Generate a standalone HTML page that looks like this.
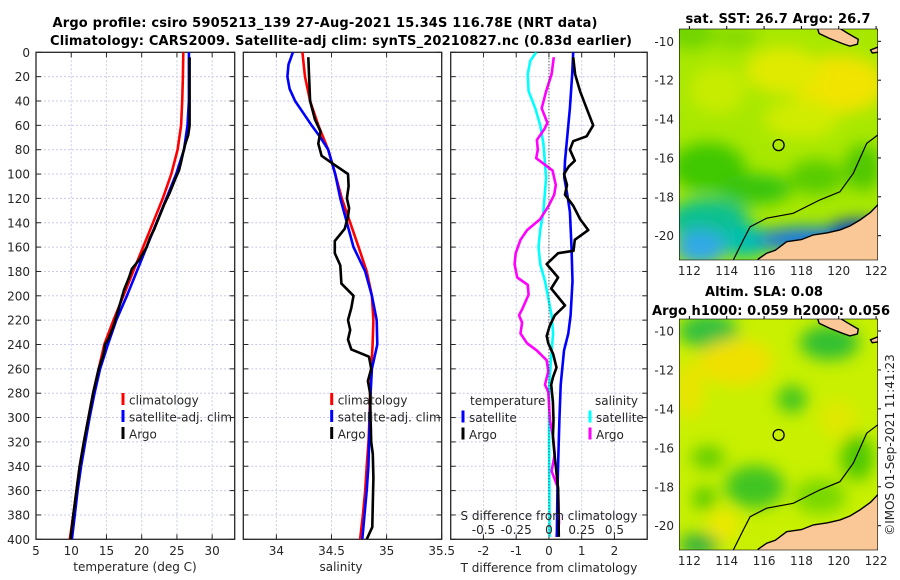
<!DOCTYPE html>
<html><head><meta charset="utf-8">
<style>
html,body{margin:0;padding:0;background:#fff;}
svg{display:block;font-family:"DejaVu Sans","Liberation Sans",sans-serif;}
.tk{font-size:12px;fill:#262626;}
.tt{font-size:13px;font-weight:bold;fill:#000;}
</style></head>
<body>
<svg id="fig" width="900" height="580" viewBox="0 0 900 580" xmlns="http://www.w3.org/2000/svg">
<defs>
<filter id="blr" x="-20%" y="-20%" width="140%" height="140%"><feGaussianBlur stdDeviation="8"/></filter>
<clipPath id="c1"><rect x="679.3" y="29" width="198.4" height="231"/></clipPath>
<clipPath id="c2"><rect x="679.3" y="319" width="198.4" height="231"/></clipPath>
<clipPath id="cp1"><rect x="36" y="52.3" width="198.7" height="487"/></clipPath>
<clipPath id="cp2"><rect x="243.3" y="52.3" width="198.4" height="487"/></clipPath>
<clipPath id="cp3"><rect x="450.7" y="52.3" width="196.5" height="487"/></clipPath>
</defs>
<text class="tt" x="325" y="27" text-anchor="middle" textLength="545">Argo profile: csiro 5905213_139 27-Aug-2021 15.34S 116.78E (NRT data)</text>
<text class="tt" x="341" y="45" text-anchor="middle" textLength="582">Climatology: CARS2009. Satellite-adj clim: synTS_20210827.nc (0.83d earlier)</text>
<g id="p1"></g>
<g id="p2"></g>
<g id="p3"></g>
<g id="m1"></g>
<g id="m2"></g>
<text class="tk" transform="translate(894,445) rotate(-90)" text-anchor="middle" font-size="13">©IMOS 01-Sep-2021 11:41:23</text>
</svg>
<script>
// ---- data ----
const depthTicks=[0,20,40,60,80,100,120,140,160,180,200,220,240,260,280,300,320,340,360,380,400];
const tTicks=[5,10,15,20,25,30];
const sTicks=[34,34.5,35,35.5];
const dTTicks=[-2,-1,0,1,2];
const dSTicks=[-0.5,-0.25,0,0.25,0.5];
const climDepth=[0,20,40,60,80,100,120,140,160,180,200,220,240,260,280,300,320,340,360,380,400];
const tClim=[25.9,25.85,25.75,25.6,25.1,24.2,23.0,21.6,20.2,18.8,17.4,16.0,14.7,13.9,13.1,12.45,11.8,11.2,10.75,10.3,9.8];
const tSat=[26.7,26.7,26.7,26.5,26.0,24.9,23.5,22.1,20.7,19.3,17.9,16.4,15.2,14.1,13.3,12.6,12.0,11.4,10.9,10.5,10.1];
const argoTDepth=[4,20,40,60,68,75,82,90,97,105,115,125,135,145,152,160,170,178,185,195,205,215,225,235,240,248,260,270,280,300,320,340,360,380,400];
const tArgo=[26.8,26.8,26.8,26.8,26.6,26.2,25.9,25.6,25.3,24.7,24.0,23.2,22.5,21.8,21.2,20.7,19.7,18.6,18.2,17.5,17.0,16.5,16.0,15.3,14.8,14.6,13.9,13.5,13.1,12.45,11.8,11.2,10.75,10.3,9.9];
const sClim=[34.236,34.26,34.306,34.38,34.47,34.534,34.594,34.67,34.746,34.82,34.867,34.88,34.873,34.861,34.85,34.845,34.836,34.82,34.806,34.785,34.76];
const sSatDepth=[0,10,20,30,40,50,60,70,80,100,120,140,160,180,200,220,240,260,280,300,340,360,380,400];
const sSat=[34.15,34.11,34.10,34.12,34.17,34.245,34.32,34.40,34.47,34.534,34.58,34.64,34.70,34.806,34.867,34.91,34.916,34.867,34.855,34.848,34.835,34.82,34.80,34.78];
const argoSDepth=[4,40,55,65,75,85,92,100,110,120,128,135,145,155,165,175,190,200,210,220,228,236,244,250,260,270,280,300,320,330,350,370,390,400];
const sArgo=[34.29,34.306,34.35,34.40,34.38,34.41,34.52,34.65,34.655,34.64,34.66,34.65,34.62,34.53,34.53,34.58,34.59,34.70,34.68,34.65,34.67,34.65,34.68,34.84,34.86,34.83,34.85,34.855,34.86,34.875,34.88,34.875,34.87,34.82];
const dTSatDepth=[0,18,46,75,89,103,117,131,160,188,216,231,245,273,302,330,358,398];
const dTSat=[0.74,0.71,0.64,0.54,0.49,0.47,0.56,0.64,0.69,0.72,0.66,0.59,0.46,0.36,0.32,0.29,0.26,0.24];
const dSSatDepth=[0,7,18,32,46,60,75,103,131,146,160,174,188,216,231,245,273,302,398];
const dSSat=[-0.097,-0.142,-0.162,-0.155,-0.104,-0.067,-0.042,-0.022,-0.042,-0.067,-0.08,-0.067,-0.03,0.02,0.032,0.02,0.002,0,0.005];
const dSArgoDepth=[4,18,32,46,58,63,72,80,87,97,109,117,126,137,146,154,165,174,185,191,199,211,216,222,231,239,245,253,262,273,279,302,316,330,344,358,387,398];
const dSArgo=[0.037,0.02,-0.022,-0.055,-0.012,-0.035,-0.092,-0.085,-0.097,0.027,0.052,0.04,-0.002,-0.067,-0.167,-0.217,-0.254,-0.262,-0.242,-0.162,-0.155,-0.204,-0.229,-0.205,-0.217,-0.167,-0.092,-0.017,-0.005,-0.03,-0.005,0.007,0.032,0.045,0.02,0.07,0.077,0.057];
const dTArgoDepth=[4,18,32,46,60,69,73,80,89,94,100,109,117,126,137,146,154,163,165,174,185,194,208,216,225,233,239,248,259,267,273,287,302,316,330,358,398];
const dTArgo=[0.74,0.8,0.95,1.15,1.35,1.15,0.74,0.64,0.79,0.6,0.46,0.55,0.49,0.74,0.95,1.2,0.79,0.75,0.28,-0.07,0.28,0.07,0.49,0.18,0.02,-0.07,-0.02,0.13,0.23,0.12,0.07,0.12,0.14,0.12,0.17,0.28,0.3];
const latTicks=[-10,-12,-14,-16,-18,-20];
const lonTicks=[112,114,116,118,120,122];
const argoPos=[116.78,-15.34];

// ---- helpers ----
const NS="http://www.w3.org/2000/svg";
function mk(parent,tag,attrs,txt){const e=document.createElementNS(NS,tag);for(const k in attrs)e.setAttribute(k,attrs[k]);if(txt!==undefined)e.textContent=txt;parent.appendChild(e);return e;}
const Y0=52.3,Y1=539.3;
const yD=d=>Y0+d/400*(Y1-Y0);
function panel(g,x0,x1,xmin,xmax,ticks,fmt,clip){
  const xs=v=>x0+(v-xmin)/(xmax-xmin)*(x1-x0);
  for(const d of depthTicks){ if(d>0&&d<400){const l=mk(g,'line',{x1:x0,x2:x1,y1:yD(d),y2:yD(d),stroke:'#c8cce8','stroke-width':1,'stroke-dasharray':'2,2'});
    
    }
    mk(g,'line',{x1:x0,x2:x0+5,y1:yD(d),y2:yD(d),stroke:'#262626'});mk(g,'line',{x1:x1-5,x2:x1,y1:yD(d),y2:yD(d),stroke:'#262626'});}
  for(const t of ticks){const x=xs(t); if(x>x0+1&&x<x1-1){const l=mk(g,'line',{x1:x,x2:x,y1:Y0,y2:Y1,stroke:'#c8cce8','stroke-width':1,'stroke-dasharray':'2,2'});
    
    }
    mk(g,'line',{x1:x,x2:x,y1:Y1,y2:Y1-5,stroke:'#262626'});mk(g,'line',{x1:x,x2:x,y1:Y0,y2:Y0+5,stroke:'#262626'});
    if(fmt){const tx=mk(g,'text',{class:'tk',x:x,y:555,'text-anchor':'middle'},fmt(t));
    
    }}
  const r=mk(g,'rect',{x:x0,y:Y0,width:x1-x0,height:Y1-Y0,fill:'none',stroke:'#262626','stroke-width':1.3});
  
  
  const lg=mk(g,'g',{'clip-path':'url(#'+clip+')'});
  return {xs,lg};
}
function line(g,xs,dep,vals,col,name,w){
  const pts=dep.map((d,i)=>xs(vals[i]).toFixed(1)+','+yD(d).toFixed(1)).join(' ');
  const p=mk(g,'polyline',{points:pts,fill:'none',stroke:col,'stroke-width':w||2.6,'stroke-linejoin':'round'});
  
  
}
function legend(g,x,y,col,label,name){
  mk(g,'rect',{x:x-1.5,y:y-7,width:3,height:12,fill:col});
  const t=mk(g,'text',{class:'tk',x:x+6,y:y+4.5},label);
  
  
}

// ---- panel 1 ----
const g1=document.getElementById('p1');
const P1=panel(g1,36,234.7,5,33.2,tTicks,t=>String(t),'cp1');
for(const d of depthTicks){const t=mk(g1,'text',{class:'tk',x:30,y:yD(d)+4.5,'text-anchor':'end'},String(d));
  
  }
line(P1.lg,P1.xs,climDepth,tClim,'#ff0000','temp-climatology-line');
line(P1.lg,P1.xs,climDepth,tSat,'#0000ff','temp-satellite-line');
line(P1.lg,P1.xs,argoTDepth,tArgo,'#000000','temp-argo-line');
legend(g1,123,400,'#ff0000','climatology','legend-climatology');
legend(g1,123,417,'#0000ff','satellite-adj. clim','legend-satellite');
legend(g1,123,434,'#000000','Argo','legend-argo');
(function(){const t=mk(g1,'text',{class:'tk',x:135,y:571,'text-anchor':'middle','font-size':13},'temperature (deg C)');
})();

// ---- panel 2 ----
const g2=document.getElementById('p2');
const P2=panel(g2,243.3,441.7,33.7,35.5,sTicks,t=>String(t),'cp2');
line(P2.lg,P2.xs,climDepth,sClim,'#ff0000','sal-climatology-line');
line(P2.lg,P2.xs,sSatDepth,sSat,'#0000ff','sal-satellite-line');
line(P2.lg,P2.xs,argoSDepth,sArgo,'#000000','sal-argo-line');
legend(g2,331.7,400,'#ff0000','climatology','legend-climatology');
legend(g2,331.7,417,'#0000ff','satellite-adj. clim','legend-satellite');
legend(g2,331.7,434,'#000000','Argo','legend-argo');
(function(){const t=mk(g2,'text',{class:'tk',x:341,y:571,'text-anchor':'middle','font-size':13},'salinity');
})();

// ---- panel 3 ----
const g3=document.getElementById('p3');
const P3=panel(g3,450.7,647.2,-3,3,dTTicks,null,'cp3');
for(const t of dTTicks){const tx=mk(g3,'text',{class:'tk',x:P3.xs(t),y:555,'text-anchor':'middle'},String(t));
  
  }
const xsS=v=>P3.xs(v*4);
mk(g3,'line',{x1:P3.xs(0),x2:P3.xs(0),y1:Y0,y2:Y1,stroke:'#333','stroke-width':1,'stroke-dasharray':'1,2'});
line(P3.lg,xsS,dSSatDepth,dSSat,'#00ffff','sdiff-satellite-line');
line(P3.lg,xsS,dSArgoDepth,dSArgo,'#ff00ff','sdiff-argo-line');
line(P3.lg,P3.xs,dTSatDepth,dTSat,'#0000ff','tdiff-satellite-line');
line(P3.lg,P3.xs,dTArgoDepth,dTArgo,'#000000','tdiff-argo-line');
(function(){let t=mk(g3,'text',{class:'tk',x:470,y:405},'temperature');
t=mk(g3,'text',{class:'tk',x:595,y:405},'salinity');})();
legend(g3,463,417.5,'#0000ff','satellite','legend-t-satellite');
legend(g3,463,434.5,'#000000','Argo','legend-t-argo');
legend(g3,590,417.5,'#00ffff','satellite','legend-s-satellite');
legend(g3,590,434.5,'#ff00ff','Argo','legend-s-argo');
(function(){let t=mk(g3,'text',{class:'tk',x:549,y:520,'text-anchor':'middle'},'S difference from climatology');
for(const v of dSTicks){const x=mk(g3,'text',{class:'tk',x:xsS(v),y:534,'text-anchor':'middle'},String(v));}
t=mk(g3,'text',{class:'tk',x:549,y:572,'text-anchor':'middle','font-size':13},'T difference from climatology');})();

// ---- maps ----
const coast=[[115.6,-21.4],[115.69,-21.2],[116.14,-20.9],[116.6,-20.75],[117.21,-20.31],[118.0,-20.2],[118.64,-19.96],[119.4,-19.85],[120.07,-19.7],[120.6,-19.5],[121.14,-19.19],[121.7,-18.8],[122.2,-18.3],[122.2,-21.4]];
const island=[[118.85,-9.3],[118.95,-9.6],[119.5,-9.85],[120.2,-10.12],[120.6,-10.25],[121.0,-10.15],[121.05,-9.9],[120.5,-9.6],[120.0,-9.3]];
const island2=[[121.7,-10.45],[122.1,-10.3],[122.2,-10.55],[121.8,-10.6]];
const isobath=[[114.35,-21.25],[114.89,-20.22],[115.25,-19.54],[116.14,-19.1],[117.56,-18.85],[118.99,-18.16],[120.06,-17.74],[120.78,-16.79],[121.5,-15.25],[122.09,-14.82]];
function drawMap(id,top,lat10,lat20,clip,title,blobs,base){
  const g=document.getElementById(id);
  const X=lon=>679.3+(lon-111.46)*18.67;
  const Y=lat=>lat10+(-10-lat)/10*(lat20-lat10);
  const cg=mk(g,'g',{'clip-path':'url(#'+clip+')'});
  mk(cg,'rect',{x:679.3,y:top,width:198.4,height:231,fill:base});
  const bg=mk(cg,'g',{filter:'url(#blr)'});
  for(const b of blobs){mk(bg,'ellipse',{cx:X(b[0]),cy:Y(b[1]),rx:b[2]*18.67,ry:b[3]*19.4,fill:b[4]});}
  const poly=(pts,fill,name)=>{const p=mk(cg,'polygon',{points:pts.map(q=>X(q[0]).toFixed(1)+','+Y(q[1]).toFixed(1)).join(' '),fill:fill,stroke:'#000','stroke-width':1.4});};
  poly(coast,'#f9c896','australia-land');poly(island,'#f9c896','island-land');poly(island2,'#f9c896','small-island');
  const iso=mk(cg,'polyline',{points:isobath.map(q=>X(q[0]).toFixed(1)+','+Y(q[1]).toFixed(1)).join(' '),fill:'none',stroke:'#000','stroke-width':1.2});
  
  const c=mk(g,'circle',{cx:X(argoPos[0]),cy:Y(argoPos[1]),r:5.5,fill:'none',stroke:'#000','stroke-width':1.3});
  
  mk(g,'rect',{x:679.3,y:top,width:198.4,height:231,fill:'none',stroke:'#000','stroke-width':0.6});
  for(const la of latTicks){const t=mk(g,'text',{class:'tk',x:674,y:Y(la)+4.5,'text-anchor':'end'},String(la));
    mk(g,'line',{x1:877.7,x2:881,y1:Y(la),y2:Y(la),stroke:'#000'});}
  for(const lo of lonTicks){const t=mk(g,'text',{class:'tk',x:X(lo),y:top+231+15,'text-anchor':'middle'},String(lo));
    mk(g,'line',{x1:X(lo),x2:X(lo),y1:top-3,y2:top,stroke:'#000'});}
  title.forEach(s=>{const t=mk(g,'text',{class:'tt',x:s[1],y:s[2],'text-anchor':'middle'},s[0]);if(s[3])t.setAttribute('textLength',s[3]);});
}
drawMap('m1',29,41.3,235.7,'c1',[['sat. SST: 26.7 Argo: 26.7',778,23,185]],[
 [112,-9.6,1.4,0.8,'#70d400'],[114.5,-9.8,1.2,0.5,'#80d800'],[120,-12.2,2.5,1.5,'#f0e400'],[117,-11.5,2,1.2,'#e0ea00'],[113.5,-12.5,1.5,1.2,'#c8ec00'],[118,-14,2,1,'#d0ec00'],
 [113,-16.5,2,1.3,'#40c800'],[118.8,-17,1.5,0.9,'#58cc00'],[121.3,-16.5,1,1.2,'#50c800'],[115.5,-17.6,2,0.8,'#38c410'],
 [113,-19.2,2.2,1.1,'#10c090'],[112.6,-20.6,1.4,0.9,'#30a8e8'],[115,-20.3,1.2,0.8,'#00c0b0'],[118.5,-20.2,3,0.6,'#1070f0'],[121,-19.7,1.5,0.5,'#0030d0']
],'#a8e800');
drawMap('m2',319,331,525.7,'c2',[['Altim. SLA: 0.08',764,296],['Argo h1000: 0.059 h2000: 0.056',771,315,238]],[
 [113,-10,1.6,0.9,'#30c040'],[119.5,-10.6,1.6,0.9,'#30c030'],[114.5,-11.6,2,1.2,'#f0e000'],[112,-13,0.8,1.5,'#e8e400'],[117.5,-13.5,0.8,0.7,'#40c420'],
 [120,-14.5,1,1,'#e0e800'],[113,-16.5,0.9,0.6,'#60cc00'],[121,-16.5,0.9,1.2,'#50c800'],[115.5,-18,1.6,1.1,'#40c420'],
 [112.8,-18.6,0.6,0.6,'#50c800'],[113.8,-20,0.8,0.8,'#f0e800'],[112.5,-21,1.1,0.6,'#30b040'],[119,-18.5,1.4,0.9,'#78d800']
],'#c8f000');
</script>
</body></html>
